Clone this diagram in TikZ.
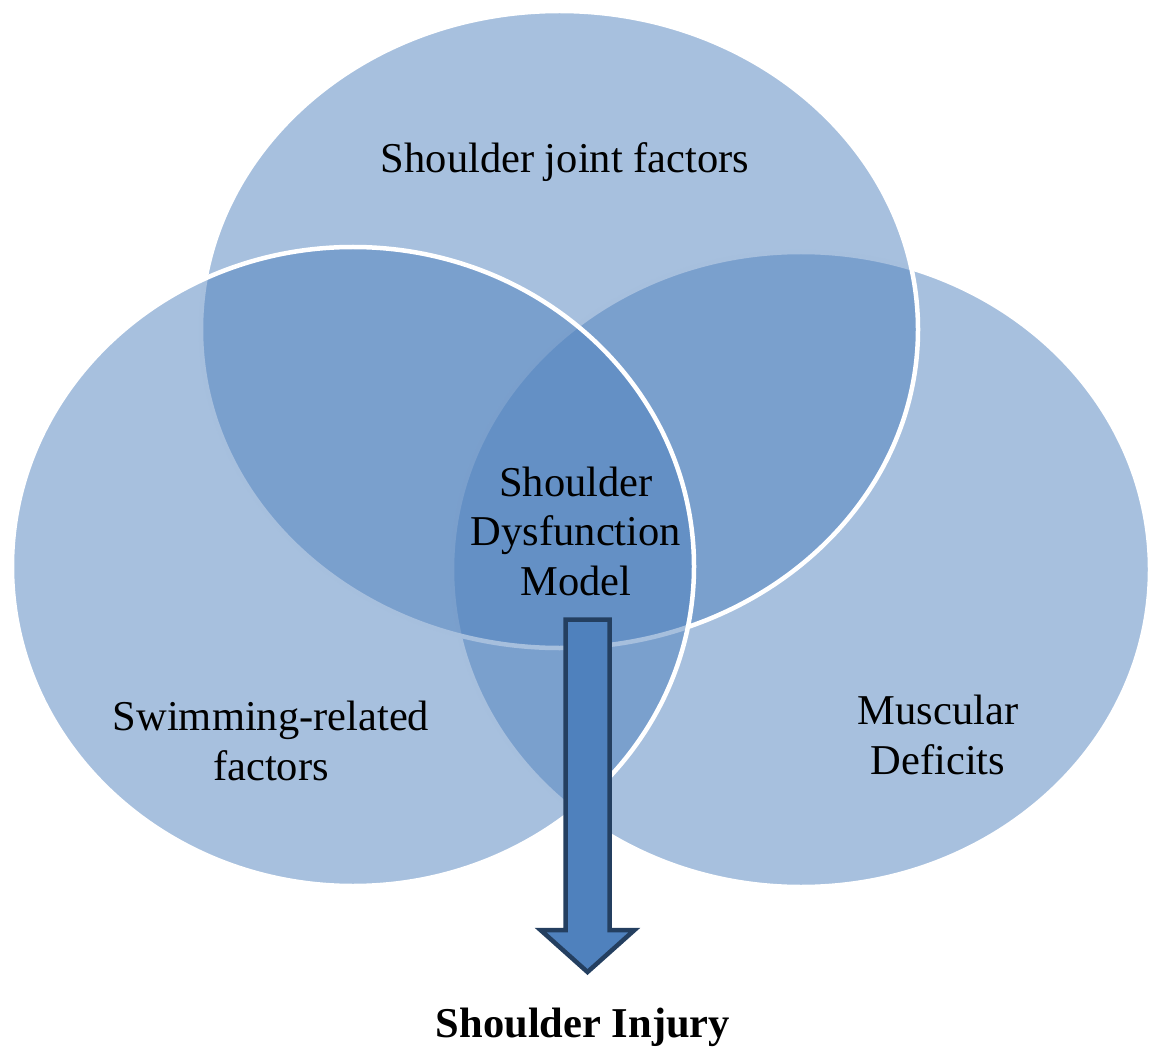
\documentclass[tikz,border=0pt]{standalone}
\usepackage{fontspec}
\setmainfont{Liberation Serif}
\definecolor{venn}{HTML}{4F81BD}
\definecolor{arrowedge}{HTML}{243F60}
\begin{document}
\begin{tikzpicture}[x=1pt,y=-1pt,
  vennset/.style={fill=venn,fill opacity=0.5,draw=white,draw opacity=1,line width=4.5pt},
  label/.style={font=\fontsize{42.5}{49.5}\selectfont,align=center,inner sep=0pt,anchor=base,text=black},
  blockarrow/.style={fill=venn,draw=arrowedge,line width=4.5pt,line join=miter}]
\useasboundingbox (0,0) rectangle (1151,1048);
\coordinate (cR) at (801,569.5);
\coordinate (cT) at (559.5,329.5);
\coordinate (cL) at (353,566.5);
% circles (drawn right, top, left)
\path[vennset] (cR) ellipse [x radius=349, y radius=317.5];
\path[vennset] (cT) ellipse [x radius=358.5, y radius=318.5];
\path[vennset] (cL) ellipse [x radius=341, y radius=319.5];
% arrow
\coordinate (a1) at (565.5,619.5);
\coordinate (a2) at (609.5,619.5);
\coordinate (a3) at (609.5,930);
\coordinate (a4) at (634.5,930);
\coordinate (a5) at (587.5,972);
\coordinate (a6) at (540.5,930);
\coordinate (a7) at (565.5,930);
\path[blockarrow] (a1) -- (a2) -- (a3) -- (a4) -- (a5) -- (a6) -- (a7) -- cycle;
% labels
\node[label] (top) at (565,173) {Shoulder joint factors};
\node[label] (mid) at (576,595) {Shoulder\\Dysfunction\\Model};
\node[label] (left) at (271,780) {Swimming-related\\factors};
\node[label] (right) at (938,774) {Muscular\\Deficits};
\node[label,font=\fontsize{42.5}{49.5}\selectfont\bfseries] (injury) at (583,1037) {Shoulder Injury};
\end{tikzpicture}
\end{document}
